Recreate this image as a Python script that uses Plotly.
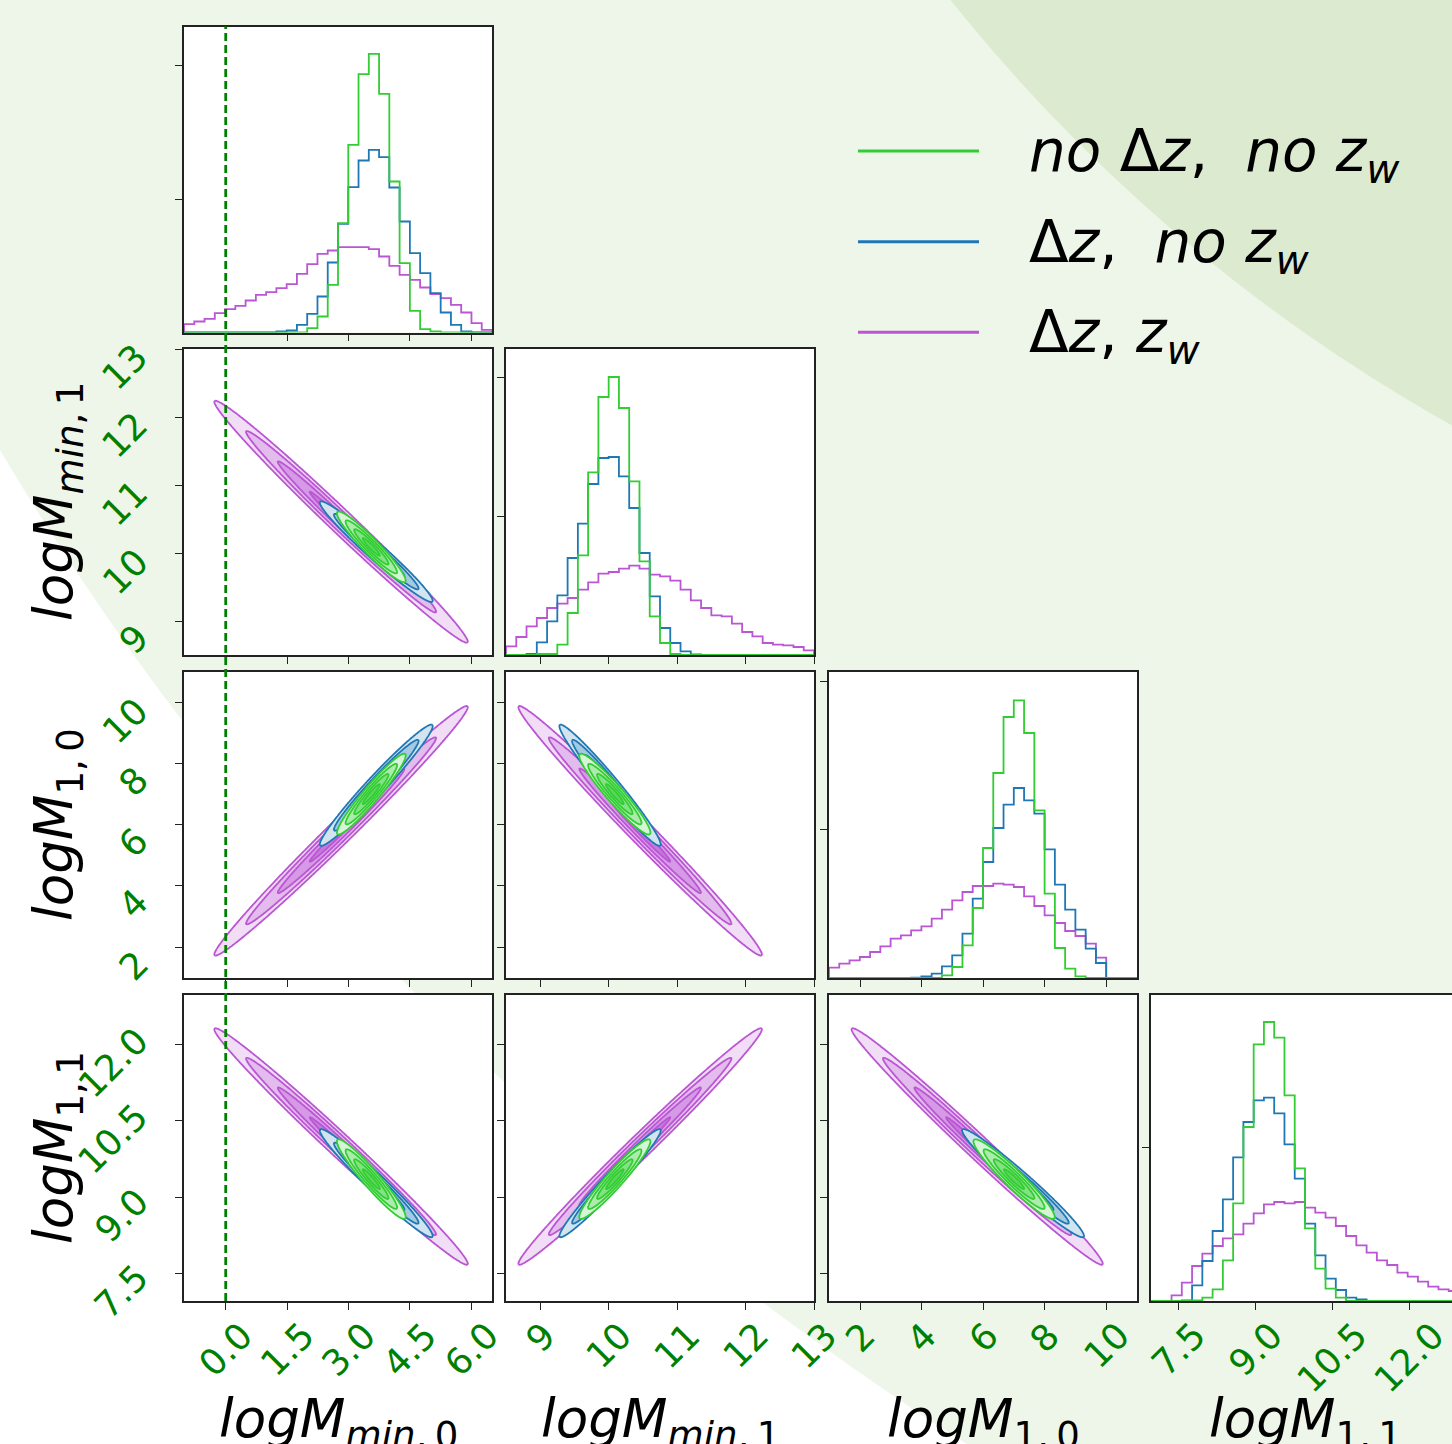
import numpy as np
import plotly.graph_objects as go

W, H = 1452, 1444

# ------------------------------------------------------------------ data
PARAM_TITLES = [
    "<i>logM</i><sub><i>min</i>,\u20090</sub>",
    "<i>logM</i><sub><i>min</i>,\u20091</sub>",
    "<i>logM</i><sub>1,\u20090</sub>",
    "<i>logM</i><sub>1,\u20091</sub>",
]
LEGEND_LABELS = [
    "<i>no</i> \u0394<i>z</i>,  <i>no z</i><sub><i>w</i></sub>",
    "\u0394<i>z</i>,  <i>no z</i><sub><i>w</i></sub>",
    "\u0394<i>z</i>, <i>z</i><sub><i>w</i></sub>",
]

RANGE_P0 = [-1.02, 6.51]
RANGE_P1 = [8.50, 13.00]
RANGE_P2 = [0.99, 10.99]
RANGE_P3 = [6.97, 12.97]

TICKS_P0 = [0.0, 1.5, 3.0, 4.5, 6.0]
TICKS_P1 = [9, 10, 11, 12, 13]
TICKS_P2 = [2, 4, 6, 8, 10]
TICKS_P3 = [7.5, 9.0, 10.5, 12.0]
TICKTEXT_P0 = ["0.0", "1.5", "3.0", "4.5", "6.0"]
TICKTEXT_P1 = ["9", "10", "11", "12", "13"]
TICKTEXT_P2 = ["2", "4", "6", "8", "10"]
TICKTEXT_P3 = ["7.5", "9.0", "10.5", "12.0"]

N_BINS = 30

# 1-D marginal histograms (30 bins spanning each parameter range)
HIST_P0_GREEN = [0, 0, 0, 0, 0, 0, 0, 0, 0, 0, 0, 0, 13, 48, 143, 328, 563, 775, 836, 716, 453, 208, 65, 10, 3, 0, 0, 0, 0, 0]
HIST_P0_BLUE = [0, 0, 0, 0, 0, 0, 0, 0, 0, 3, 6, 23, 56, 108, 210, 326, 436, 516, 548, 526, 435, 333, 238, 178, 118, 60, 23, 3, 0, 0]
HIST_P0_PURPLE = [25, 33, 41, 58, 70, 80, 96, 113, 121, 133, 145, 176, 205, 236, 246, 256, 256, 256, 250, 228, 200, 173, 158, 135, 115, 103, 83, 60, 28, 8]

HIST_P1_GREEN = [0, 0, 0, 3, 3, 31, 126, 299, 548, 774, 834, 741, 521, 281, 116, 36, 3, 0, 0, 0, 0, 0, 0, 0, 0, 0, 0, 0, 0, 0]
HIST_P1_BLUE = [0, 0, 3, 38, 101, 179, 291, 394, 513, 591, 594, 536, 441, 306, 176, 81, 36, 11, 2, 0, 0, 0, 0, 0, 0, 0, 0, 0, 0, 0]
HIST_P1_PURPLE = [26, 54, 86, 111, 141, 154, 171, 196, 218, 244, 249, 259, 268, 259, 241, 236, 223, 196, 164, 141, 119, 116, 94, 69, 56, 36, 31, 29, 24, 14]

HIST_P2_GREEN = [0, 0, 0, 0, 0, 0, 0, 0, 0, 0, 0, 8, 33, 98, 210, 390, 615, 783, 833, 735, 503, 253, 90, 28, 5, 0, 0, 0, 0, 0]
HIST_P2_BLUE = [0, 0, 0, 0, 0, 0, 0, 0, 1, 5, 13, 35, 68, 133, 238, 348, 450, 520, 570, 533, 493, 386, 280, 205, 145, 88, 45, 0, 0, 0]
HIST_P2_PURPLE = [31, 43, 53, 63, 78, 95, 118, 128, 143, 155, 178, 205, 233, 258, 276, 276, 283, 280, 273, 245, 216, 188, 165, 141, 126, 103, 61, 0, 0, 0]

HIST_P3_GREEN = [0, 0, 0, 0, 2, 10, 35, 122, 293, 522, 770, 837, 790, 617, 398, 218, 97, 37, 10, 0, 0, 0, 0, 0, 0, 0, 0, 0, 0, 0]
HIST_P3_BLUE = [0, 0, 0, 2, 47, 120, 210, 305, 431, 537, 602, 610, 563, 470, 367, 232, 137, 67, 33, 10, 5, 0, 0, 0, 0, 0, 0, 0, 0, 0]
HIST_P3_PURPLE = [0, 0, 17, 55, 105, 142, 165, 188, 200, 232, 263, 290, 297, 293, 297, 280, 265, 250, 225, 195, 167, 145, 122, 108, 85, 73, 58, 43, 35, 30]

HIST_YMAX = 918
HIST_YTICKS_P0 = [400, 800]
HIST_YTICKS_P1 = [417, 834]
HIST_YTICKS_P2 = [445, 890]
HIST_YTICKS_P3 = [460]

# 2-D posterior summaries (means, widths, pairwise correlations)
PAIRS = [(0, 1), (0, 2), (0, 3), (1, 2), (1, 3), (2, 3)]
MEAN_GREEN = [3.56, 10.09, 7.00, 9.36]
STD_GREEN = [0.42, 0.26, 0.66, 0.39]
CORR_GREEN = [-0.950, 0.955, -0.950, -0.950, 0.950, -0.950]
MEAN_BLUE = [3.68, 10.02, 7.29, 9.28]
STD_BLUE = [0.69, 0.37, 0.99, 0.53]
CORR_BLUE = [-0.975, 0.975, -0.975, -0.975, 0.975, -0.975]
MEAN_PURPLE = [2.82, 10.46, 5.80, 10.00]
STD_PURPLE = [1.55, 0.89, 2.04, 1.16]
CORR_PURPLE = [-0.991, 0.991, -0.991, -0.991, 0.991, -0.991]

TRUTH_P0 = 0.0

# ------------------------------------------------------------------ styling
GREEN = "#32CD32"
BLUE = "#1f77b4"
PURPLE = "#BA55D3"
TICK_GREEN = "#008000"
FONT = "DejaVu Sans"
AX_COLOR = "#222222"

RANGES = [RANGE_P0, RANGE_P1, RANGE_P2, RANGE_P3]
TICKS = [TICKS_P0, TICKS_P1, TICKS_P2, TICKS_P3]
TICKTEXT = [TICKTEXT_P0, TICKTEXT_P1, TICKTEXT_P2, TICKTEXT_P3]
HISTS = [
    [HIST_P0_PURPLE, HIST_P0_BLUE, HIST_P0_GREEN],
    [HIST_P1_PURPLE, HIST_P1_BLUE, HIST_P1_GREEN],
    [HIST_P2_PURPLE, HIST_P2_BLUE, HIST_P2_GREEN],
    [HIST_P3_PURPLE, HIST_P3_BLUE, HIST_P3_GREEN],
]
HIST_YTICKS = [HIST_YTICKS_P0, HIST_YTICKS_P1, HIST_YTICKS_P2, HIST_YTICKS_P3]
SERIES = [  # drawing order: purple, blue, green
    (PURPLE, MEAN_PURPLE, STD_PURPLE, CORR_PURPLE),
    (BLUE, MEAN_BLUE, STD_BLUE, CORR_BLUE),
    (GREEN, MEAN_GREEN, STD_GREEN, CORR_GREEN),
]

COL_PX = [(184, 492), (506, 814), (829, 1137), (1151, 1459)]
ROW_PX = [(26.5, 332.5), (349, 655), (672, 978), (995, 1301)]


def px_x(p):
    return p / W


def px_y(p):
    return (H - p) / H


def mix(hexc, a):
    hexc = hexc.lstrip("#")
    r, g, b = int(hexc[0:2], 16), int(hexc[2:4], 16), int(hexc[4:6], 16)
    return "rgb(%d,%d,%d)" % (round(255 * (1 - a) + r * a), round(255 * (1 - a) + g * a), round(255 * (1 - a) + b * a))


fig = go.Figure()
layout = {}
axis_id = {}
k = 0
for i in range(4):
    for j in range(i + 1):
        k += 1
        axis_id[(i, j)] = k

# visible x ranges (last column is cut by the page edge)
vis_ranges = []
for j in range(4):
    c0, c1 = COL_PX[j]
    r0, r1 = RANGES[j]
    if c1 > W:
        r1 = r0 + (r1 - r0) * (W - c0) / (c1 - c0)
        c1 = W
    vis_ranges.append(([r0, r1], (c0, c1)))

for (i, j), k in axis_id.items():
    sx = "" if k == 1 else str(k)
    (xr, (c0, c1)) = vis_ranges[j]
    r0px, r1px = ROW_PX[i]
    layout["xaxis" + sx] = dict(
        domain=[px_x(c0), px_x(c1)], range=xr, anchor="y" + sx,
        showline=True, mirror=True, linecolor=AX_COLOR, linewidth=1.5,
        ticks="outside", ticklen=7, tickwidth=1.3, tickcolor=AX_COLOR,
        tickvals=TICKS[j], showticklabels=False, showgrid=False, zeroline=False,
    )
    if i == j:
        yr = [0, HIST_YMAX]
        yt = HIST_YTICKS[i]
    else:
        yr = RANGES[i]
        yt = TICKS[i]
    layout["yaxis" + sx] = dict(
        domain=[px_y(r1px), px_y(r0px)], range=yr, anchor="x" + sx,
        showline=True, mirror=(j != 3), linecolor=AX_COLOR, linewidth=1.5,
        ticks="outside", ticklen=7, tickwidth=1.3, tickcolor=AX_COLOR,
        tickvals=yt, showticklabels=False, showgrid=False, zeroline=False,
    )

# ---- diagonal histograms
for i in range(4):
    k = axis_id[(i, i)]
    sx = "" if k == 1 else str(k)
    edges = np.linspace(RANGES[i][0], RANGES[i][1], N_BINS + 1)
    for (col, _, _, _), counts in zip(SERIES, HISTS[i]):
        xs = [edges[0]] + list(edges[:-1]) + [edges[-1]]
        ys = [0] + list(counts) + [0]
        fig.add_trace(go.Scatter(
            x=xs, y=ys, mode="lines", line=dict(color=col, width=1.8, shape="hv"),
            xaxis="x" + sx, yaxis="y" + sx, showlegend=False, hoverinfo="skip",
        ))

# ---- 2-D contours (0.5, 1, 1.5, 2 sigma levels)
for i in range(4):
    for j in range(i):
        k = axis_id[(i, j)]
        sx = "" if k == 1 else str(k)
        for col, mean, std, corr in SERIES:
            rho = corr[PAIRS.index((j, i))]
            mx, my, sgx, sgy = mean[j], mean[i], std[j], std[i]
            gx = np.linspace(mx - 2.5 * sgx, mx + 2.5 * sgx, 220)
            gy = np.linspace(my - 2.5 * sgy, my + 2.5 * sgy, 220)
            X, Y = np.meshgrid(gx, gy)
            u = (X - mx) / sgx
            v = (Y - my) / sgy
            r = np.sqrt((u * u - 2 * rho * u * v + v * v) / (1 - rho * rho))
            z = np.round(np.maximum(-r, -3.0), 3)
            fig.add_trace(go.Contour(
                x=gx, y=gy, z=z, xaxis="x" + sx, yaxis="y" + sx,
                autocontour=False, showscale=False, hoverinfo="skip",
                contours=dict(start=-2.0, end=-0.5, size=0.5, coloring="fill", showlines=True),
                colorscale=[[0, "rgba(255,255,255,0)"], [0.25, mix(col, 0.2)], [0.5, mix(col, 0.4)],
                            [0.75, mix(col, 0.6)], [1.0, mix(col, 0.8)]],
                line=dict(color=col, width=1.8, smoothing=1.0),
            ))

# ---- background decoration and panel backgrounds
shapes = []
BG_LIGHT = (2571, -1084, 2994)
BG_DARK = (2289, -1069, 1713)
for (cx, cy, rad), colr in [(BG_LIGHT, "#eef6e9"), (BG_DARK, "#dcebd0")]:
    shapes.append(dict(
        type="circle", xref="paper", yref="paper", layer="below",
        x0=px_x(cx - rad), x1=px_x(cx + rad),
        y0=px_y(cy + rad), y1=px_y(cy - rad),
        fillcolor=colr, line=dict(width=0),
    ))
for (i, j), k in axis_id.items():
    (xr, (c0, c1)) = vis_ranges[j]
    r0px, r1px = ROW_PX[i]
    shapes.append(dict(type="rect", xref="paper", yref="paper", layer="below",
                       x0=px_x(c0), x1=px_x(c1), y0=px_y(r1px), y1=px_y(r0px),
                       fillcolor="white", line=dict(width=0)))

# truth line at logM_min,0 = 0
shapes.append(dict(type="line", xref="x", yref="paper", x0=TRUTH_P0, x1=TRUTH_P0,
                   y0=px_y(ROW_PX[3][1]), y1=px_y(ROW_PX[0][0]), layer="above",
                   line=dict(color=TICK_GREEN, width=2.8, dash="8px,4px")))

# manual legend
annotations = []
LEG_Y = [151, 241.7, 332.3]
for (col, lab, ly) in zip([GREEN, BLUE, PURPLE], LEGEND_LABELS, LEG_Y):
    shapes.append(dict(type="line", xref="paper", yref="paper", x0=px_x(858), x1=px_x(979),
                       y0=px_y(ly), y1=px_y(ly), line=dict(color=col, width=3), layer="above"))
    annotations.append(dict(text=lab, xref="paper", yref="paper", x=px_x(1027), y=px_y(ly + 4),
                            xanchor="left", yanchor="middle", showarrow=False,
                            font=dict(family=FONT, size=58, color="black")))

# tick labels (rotated, green)
TICK_FONT = dict(family=FONT, size=36, color=TICK_GREEN)
for j in range(4):
    k = axis_id[(3, j)]
    sx = "" if k == 1 else str(k)
    for t, tt in zip(TICKS[j], TICKTEXT[j]):
        annotations.append(dict(text=tt, xref="x" + sx, yref="paper", x=t, y=px_y(1312),
                                xanchor="center", yanchor="top", textangle=-45, showarrow=False,
                                font=TICK_FONT))
for i in range(1, 4):
    k = axis_id[(i, 0)]
    sx = "" if k == 1 else str(k)
    for t, tt in zip(TICKS[i], TICKTEXT[i]):
        annotations.append(dict(text=tt, xref="paper", yref="y" + sx, x=px_x(159), y=t,
                                xanchor="right", yanchor="middle", yshift=-18, textangle=-45,
                                showarrow=False, font=TICK_FONT))

# axis titles
for j in range(4):
    c0, c1 = COL_PX[j]
    annotations.append(dict(text=PARAM_TITLES[j], xref="paper", yref="paper",
                            x=px_x((c0 + c1) / 2), y=px_y(1386), xanchor="center", yanchor="top",
                            showarrow=False, font=dict(family=FONT, size=53, color="black")))
for i in range(1, 4):
    r0px, r1px = ROW_PX[i]
    annotations.append(dict(text=PARAM_TITLES[i], xref="paper", yref="paper",
                            x=px_x(57), y=px_y((r0px + r1px) / 2), xanchor="center", yanchor="middle",
                            textangle=-90, showarrow=False,
                            font=dict(family=FONT, size=53, color="black")))

layout.update(dict(
    width=W, height=H, margin=dict(l=0, r=0, t=0, b=0),
    paper_bgcolor="white", plot_bgcolor="white", showlegend=False,
    shapes=shapes, annotations=annotations, font=dict(family=FONT),
))
fig.update_layout(layout)
fig.write_html("out.html")
